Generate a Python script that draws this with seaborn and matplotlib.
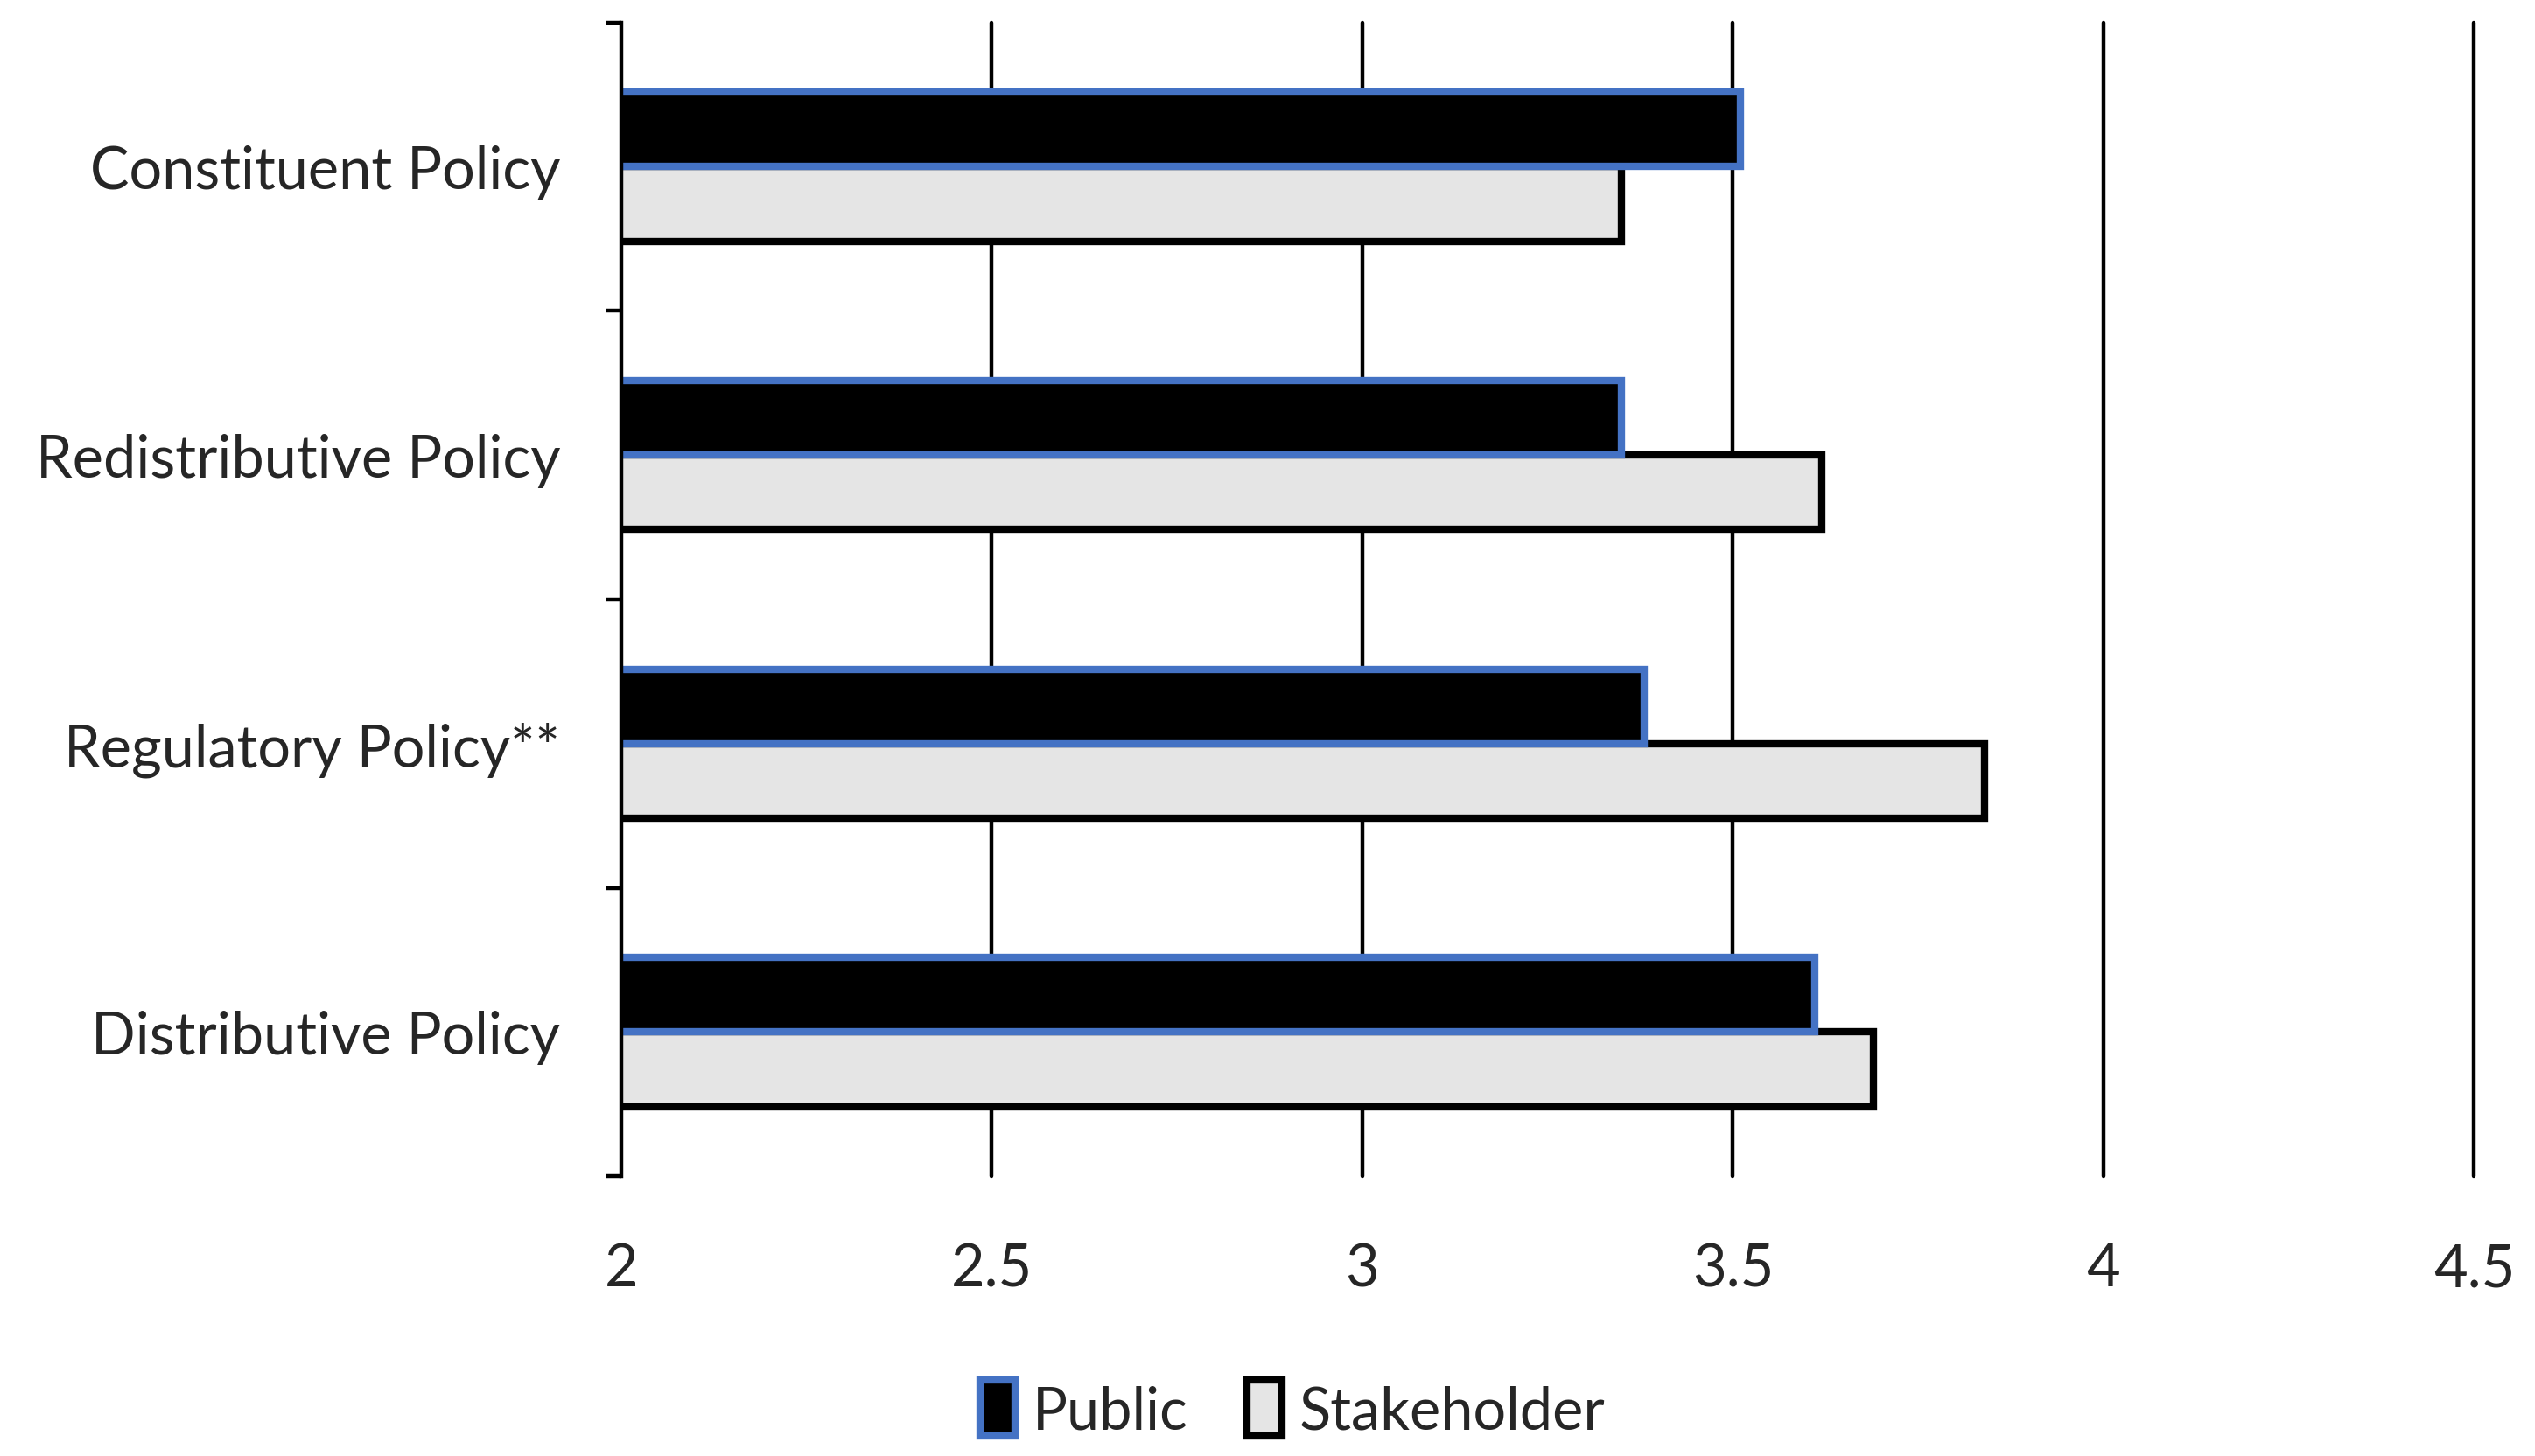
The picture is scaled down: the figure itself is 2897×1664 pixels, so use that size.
import pandas as pd
import matplotlib
matplotlib.use('Agg')
import matplotlib.pyplot as plt
import seaborn as sns
from matplotlib.patches import Patch

# Values
policies = ['Constituent Policy', 'Redistributive Policy', 'Regulatory Policy**', 'Distributive Policy']
public = [3.51, 3.35, 3.38, 3.61]
stakeholder = [3.35, 3.62, 3.84, 3.69]
groups = ['Public', 'Stakeholder']
x_ticks = [2, 2.5, 3, 3.5, 4, 4.5]
x_tick_labels = ['2', '2.5', '3', '3.5', '4', '4.5']

df = pd.DataFrame({
    'policy': policies * 2,
    'score': public + stakeholder,
    'group': ['Public'] * 4 + ['Stakeholder'] * 4,
})

sns.set_theme(style='white')
plt.rcParams['font.family'] = ['Lato', 'DejaVu Sans']

fig = plt.figure(figsize=(14.485, 8.325), dpi=200)
ax = fig.add_axes([0.245, 0.192, 0.731, 0.792])

face_colors = {'Public': '#000000', 'Stakeholder': '#e5e5e5'}
edge_colors = {'Public': '#4472c4', 'Stakeholder': '#000000'}
bar_z = {'Public': 4, 'Stakeholder': 3}

sns.barplot(data=df, y='policy', x='score', hue='group', order=policies,
            hue_order=groups, palette=face_colors, width=0.516, orient='h',
            ax=ax, legend=False, saturation=1)

for container, g in zip(ax.containers, groups):
    for bar in container:
        bar.set_edgecolor(edge_colors[g])
        bar.set_linewidth(3.0)
        bar.set_zorder(bar_z[g])

ax.set_xlim(2, 4.5)
ax.set_ylim(3.5, -0.5)

# vertical gridlines
for v in x_ticks[1:]:
    ax.axvline(v, color='black', linewidth=1.6, zorder=1, clip_on=False)

ax.set_xticks(x_ticks, labels=x_tick_labels)
ax.tick_params(axis='x', length=0, pad=27, labelsize=24)

# category separators as major ticks, labels on minor ticks
ax.set_yticks([-0.5, 0.5, 1.5, 2.5, 3.5], labels=[])
ax.set_yticks(range(len(policies)), labels=policies, minor=True)
ax.tick_params(axis='y', which='major', length=6, width=1.6, color='black', left=True)
ax.tick_params(axis='y', which='minor', length=0, pad=25, labelsize=24)

for s in ['top', 'right', 'bottom']:
    ax.spines[s].set_visible(False)
ax.spines['left'].set_color('black')
ax.spines['left'].set_linewidth(1.6)
ax.spines['left'].set_zorder(5)
ax.set_xlabel('')
ax.set_ylabel('')

handles = [Patch(facecolor=face_colors[g], edgecolor=edge_colors[g], linewidth=3.0, label=g)
           for g in groups]
fig.legend(handles=handles, loc='center', bbox_to_anchor=(0.51, 0.032), ncol=2,
           frameon=False, fontsize=24, handlelength=0.6, handleheight=1.1,
           handletextpad=0.3, columnspacing=1.0)

fig.savefig('out.png', dpi=200)
